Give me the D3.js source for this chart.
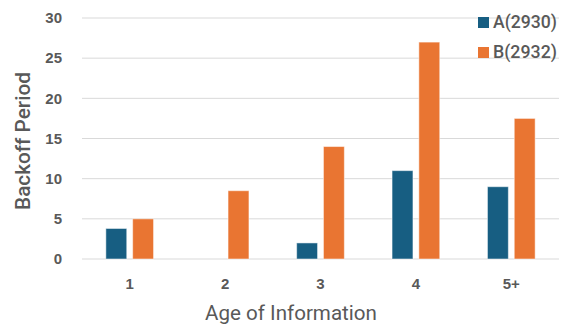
<!DOCTYPE html>
<html><head><meta charset="utf-8">
<script src="https://cdn.jsdelivr.net/npm/d3@7"></script>
<style>body{margin:0;background:#fff}svg{display:block}</style>
</head><body>
<svg id="c" width="568" height="327"></svg>
<script>
const categories = ["1","2","3","4","5+"];
const seriesNames = ["A(2930)","B(2932)"];
const seriesA = [3.8, 0, 2, 11, 9];
const seriesB = [5, 8.5, 14, 27, 17.5];
const yTicks = [0,5,10,15,20,25,30];
const colors = ["#175e82","#e97532"];
const xTitle = "Age of Information";
const yTitle = "Backoff Period";

const svg = d3.select("#c");
const m = {l:82, r:9, t:18, b:68};
const W = 568, H = 327;
const x0 = d3.scaleBand().domain(categories).range([m.l, W-m.r]).paddingInner(0.5).paddingOuter(0.25);
const x1 = d3.scaleBand().domain(seriesNames).range([0, x0.bandwidth()]).paddingInner(0.22);
const y = d3.scaleLinear().domain([0,30]).range([H-m.b, m.t]);

const gridG = svg.append("g");
yTicks.forEach(t=>{
  gridG.append("line").attr("x1",m.l).attr("x2",W-m.r).attr("y1",y(t)).attr("y2",y(t))
    .attr("stroke","#d9d9d9").attr("stroke-width",1);
});

const yAxis = d3.axisLeft(y).tickValues(yTicks).tickSize(0).tickPadding(20);
const ya = svg.append("g").attr("transform",`translate(${m.l},0)`).call(yAxis);
ya.select(".domain").remove();
ya.selectAll("text").attr("fill","#595959").style("font-family","Liberation Sans, Arial, sans-serif").style("font-size","15px").style("font-weight","bold");

const data = [seriesA, seriesB];
categories.forEach((c,i)=>{
  seriesNames.forEach((s,j)=>{
    const v = data[j][i];
    if (v<=0) return;
    svg.append("rect").attr("x", x0(c)+x1(s)).attr("width", x1.bandwidth())
      .attr("y", y(v)).attr("height", y(0)-y(v))
      .attr("fill", colors[j]).attr("stroke","#ffffff").attr("stroke-opacity",0.5).attr("stroke-width",1);
  });
});

const xAxis = d3.axisBottom(x0).tickSize(0).tickPadding(19);
const xa = svg.append("g").attr("transform",`translate(0,${y(0)})`).call(xAxis);
xa.select(".domain").remove();
xa.selectAll("text").attr("fill","#595959").style("font-family","Liberation Sans, Arial, sans-serif").style("font-size","15px").style("font-weight","bold");

function fit(sel, target){
  const w = sel.node().getComputedTextLength();
  const fs = parseFloat(sel.style("font-size"));
  sel.style("font-size", (fs*target/w).toFixed(2)+"px");
}
const xt = svg.append("text").attr("x", 291).attr("y", 320).attr("text-anchor","middle")
  .attr("fill","#595959").style("font-family","Roboto, sans-serif").style("font-size","21px").text(xTitle);
fit(xt, 172);
const yt = svg.append("text").attr("transform",`translate(30,141) rotate(-90)`).attr("text-anchor","middle")
  .attr("fill","#595959").style("font-family","Roboto, sans-serif").style("font-weight","500").style("font-size","20px").text(yTitle);
fit(yt, 138);

const lg = svg.append("g");
seriesNames.forEach((s,j)=>{
  const cy = 22 + j*30;
  lg.append("rect").attr("x",478).attr("y",cy-5).attr("width",11).attr("height",11).attr("fill",colors[j]);
  const t = lg.append("text").attr("x",493).attr("y",cy+6).attr("fill","#595959")
    .style("font-family","Roboto, sans-serif").style("font-weight","500").style("font-size","17px").text(s);
  fit(t, 64);
});
</script>
</body></html>
